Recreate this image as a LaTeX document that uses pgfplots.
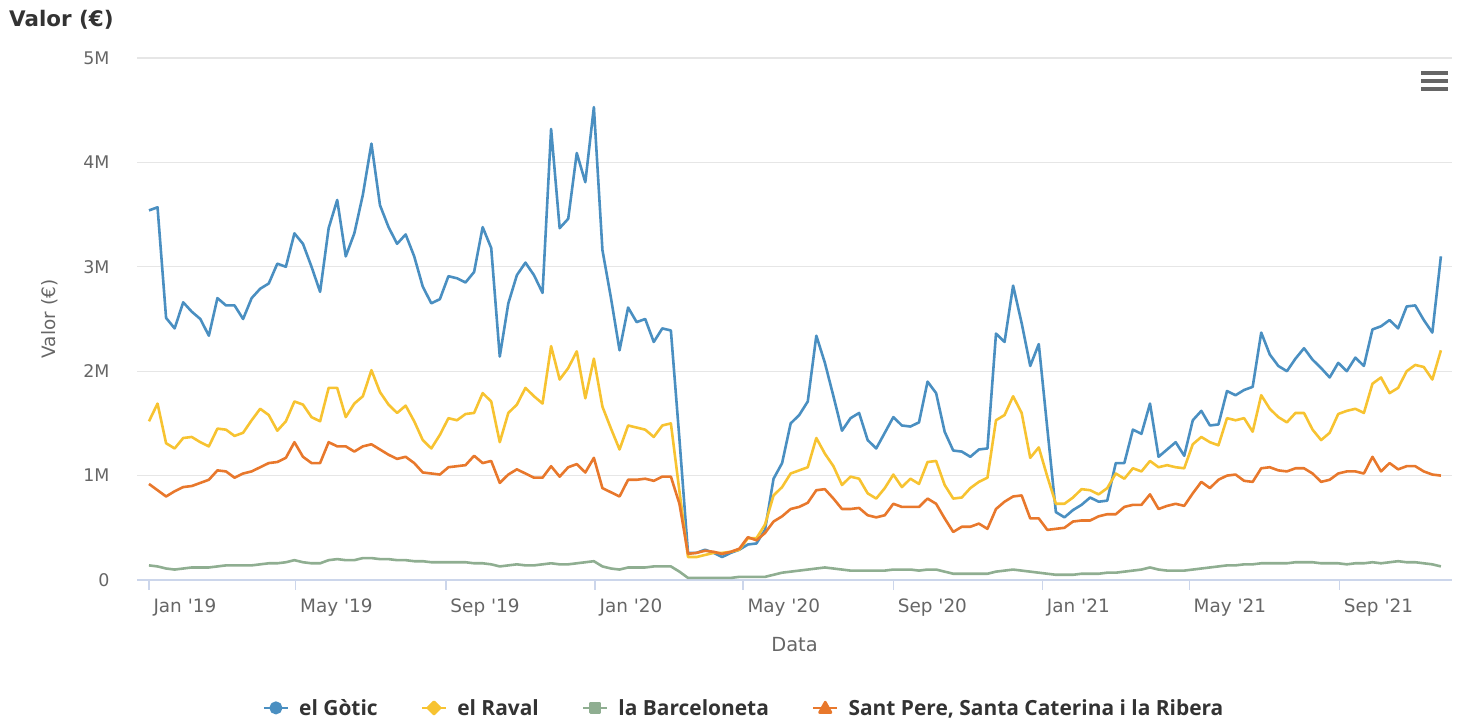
\documentclass[border=0pt]{standalone}
\usepackage{fontspec}
\setmainfont{DejaVu Sans}[Ligatures=TeXOff]
\newfontfamily\legfont{Open Sans}[Ligatures=TeXOff]
\usepackage{pgfplots}
\pgfplotsset{compat=1.18}
\usepackage{pgfplotstable}
\definecolor{cG}{HTML}{4A8FC1}
\definecolor{cR}{HTML}{F7C331}
\definecolor{cB}{HTML}{8FAE91}
\definecolor{cS}{HTML}{E8782C}
\definecolor{axisc}{HTML}{CCD6EB}
\definecolor{gridc}{HTML}{E6E6E6}
\definecolor{labc}{HTML}{666666}
\definecolor{titlec}{HTML}{333333}

\pgfplotstableread{
i G R B S
0 3.54 1.52 0.14 0.92
1 3.57 1.69 0.13 0.86
2 2.51 1.31 0.11 0.80
3 2.41 1.26 0.10 0.85
4 2.66 1.36 0.11 0.89
5 2.57 1.37 0.12 0.90
6 2.50 1.32 0.12 0.93
7 2.34 1.28 0.12 0.96
8 2.70 1.45 0.13 1.05
9 2.63 1.44 0.14 1.04
10 2.63 1.38 0.14 0.98
11 2.50 1.41 0.14 1.02
12 2.70 1.53 0.14 1.04
13 2.79 1.64 0.15 1.08
14 2.84 1.58 0.16 1.12
15 3.03 1.43 0.16 1.13
16 3.00 1.52 0.17 1.17
17 3.32 1.71 0.19 1.32
18 3.22 1.68 0.17 1.18
19 3.00 1.56 0.16 1.12
20 2.76 1.52 0.16 1.12
21 3.37 1.84 0.19 1.32
22 3.64 1.84 0.20 1.28
23 3.10 1.56 0.19 1.28
24 3.32 1.69 0.19 1.23
25 3.69 1.76 0.21 1.28
26 4.18 2.01 0.21 1.30
27 3.59 1.80 0.20 1.25
28 3.38 1.68 0.20 1.20
29 3.22 1.60 0.19 1.16
30 3.31 1.67 0.19 1.18
31 3.10 1.52 0.18 1.12
32 2.81 1.34 0.18 1.03
33 2.65 1.26 0.17 1.02
34 2.69 1.39 0.17 1.01
35 2.91 1.55 0.17 1.08
36 2.89 1.53 0.17 1.09
37 2.85 1.59 0.17 1.10
38 2.95 1.60 0.16 1.19
39 3.38 1.79 0.16 1.12
40 3.18 1.71 0.15 1.14
41 2.14 1.32 0.13 0.93
42 2.65 1.60 0.14 1.01
43 2.92 1.68 0.15 1.06
44 3.04 1.84 0.14 1.02
45 2.92 1.76 0.14 0.98
46 2.75 1.69 0.15 0.98
47 4.32 2.24 0.16 1.09
48 3.37 1.92 0.15 0.99
49 3.46 2.03 0.15 1.08
50 4.09 2.19 0.16 1.11
51 3.81 1.74 0.17 1.03
52 4.53 2.12 0.18 1.17
53 3.16 1.66 0.13 0.88
54 2.70 1.45 0.11 0.84
55 2.20 1.25 0.10 0.80
56 2.61 1.48 0.12 0.96
57 2.47 1.46 0.12 0.96
58 2.50 1.44 0.12 0.97
59 2.28 1.37 0.13 0.95
60 2.41 1.48 0.13 0.99
61 2.39 1.50 0.13 0.99
62 1.35 0.85 0.08 0.73
63 0.26 0.22 0.02 0.25
64 0.26 0.22 0.02 0.26
65 0.29 0.24 0.02 0.28
66 0.26 0.26 0.02 0.27
67 0.22 0.26 0.02 0.25
68 0.26 0.27 0.02 0.27
69 0.29 0.29 0.03 0.30
70 0.34 0.40 0.03 0.41
71 0.35 0.40 0.03 0.38
72 0.48 0.53 0.03 0.45
73 0.97 0.81 0.05 0.56
74 1.12 0.89 0.07 0.61
75 1.50 1.02 0.08 0.68
76 1.58 1.05 0.09 0.70
77 1.71 1.08 0.10 0.74
78 2.34 1.36 0.11 0.86
79 2.08 1.21 0.12 0.87
80 1.76 1.09 0.11 0.78
81 1.43 0.91 0.10 0.68
82 1.55 0.99 0.09 0.68
83 1.60 0.97 0.09 0.69
84 1.34 0.83 0.09 0.62
85 1.26 0.78 0.09 0.60
86 1.41 0.88 0.09 0.62
87 1.56 1.01 0.10 0.73
88 1.48 0.89 0.10 0.70
89 1.47 0.97 0.10 0.70
90 1.51 0.92 0.09 0.70
91 1.90 1.13 0.10 0.78
92 1.79 1.14 0.10 0.73
93 1.42 0.91 0.08 0.59
94 1.24 0.78 0.06 0.46
95 1.23 0.79 0.06 0.51
96 1.18 0.88 0.06 0.51
97 1.25 0.94 0.06 0.54
98 1.26 0.98 0.06 0.49
99 2.36 1.53 0.08 0.68
100 2.28 1.58 0.09 0.75
101 2.82 1.76 0.10 0.80
102 2.46 1.60 0.09 0.81
103 2.05 1.17 0.08 0.59
104 2.26 1.27 0.07 0.59
105 1.45 0.99 0.06 0.48
106 0.65 0.73 0.05 0.49
107 0.60 0.73 0.05 0.50
108 0.67 0.79 0.05 0.56
109 0.72 0.87 0.06 0.57
110 0.79 0.86 0.06 0.57
111 0.75 0.82 0.06 0.61
112 0.76 0.88 0.07 0.63
113 1.12 1.02 0.07 0.63
114 1.12 0.97 0.08 0.70
115 1.44 1.07 0.09 0.72
116 1.40 1.04 0.10 0.72
117 1.69 1.14 0.12 0.82
118 1.18 1.08 0.10 0.68
119 1.25 1.10 0.09 0.71
120 1.32 1.08 0.09 0.73
121 1.19 1.07 0.09 0.71
122 1.53 1.30 0.10 0.83
123 1.62 1.37 0.11 0.94
124 1.48 1.32 0.12 0.88
125 1.49 1.29 0.13 0.96
126 1.81 1.55 0.14 1.00
127 1.77 1.53 0.14 1.01
128 1.82 1.55 0.15 0.95
129 1.85 1.42 0.15 0.94
130 2.37 1.77 0.16 1.07
131 2.16 1.64 0.16 1.08
132 2.05 1.56 0.16 1.05
133 2.00 1.51 0.16 1.04
134 2.12 1.60 0.17 1.07
135 2.22 1.60 0.17 1.07
136 2.11 1.44 0.17 1.02
137 2.03 1.34 0.16 0.94
138 1.94 1.41 0.16 0.96
139 2.08 1.59 0.16 1.02
140 2.00 1.62 0.15 1.04
141 2.13 1.64 0.16 1.04
142 2.05 1.60 0.16 1.02
143 2.40 1.88 0.17 1.18
144 2.43 1.94 0.16 1.04
145 2.49 1.79 0.17 1.12
146 2.41 1.84 0.18 1.06
147 2.62 2.00 0.17 1.09
148 2.63 2.06 0.17 1.09
149 2.49 2.04 0.16 1.04
150 2.37 1.92 0.15 1.01
151 3.10 2.20 0.13 1.00
}\data

\begin{document}
\begin{tikzpicture}[x=1bp,y=1bp]
\useasboundingbox (0,0) rectangle (1472,721);
\begin{axis}[
  at={(137bp,141bp)}, anchor=south west,
  width=1315bp, height=522bp, scale only axis,
  xmin=-1.4, xmax=152.3, ymin=0, ymax=5,
  axis x line*=bottom, axis y line*=left,
  x axis line style={color=axisc, line width=1.2bp, -},
  y axis line style={draw=none},
  xtick={0,17.14,34.71,52.14,69.43,87,104.43,121.57,139.14},
  xticklabels={Jan '19,May '19,Sep '19,Jan '20,May '20,Sep '20,Jan '21,May '21,Sep '21},
  ytick={0,1,2,3,4,5},
  yticklabels={0,1M,2M,3M,4M,5M},
  ymajorgrids, grid style={color=gridc, line width=1.2bp},
  tick align=outside,
  major tick length=10bp,
  xtick style={color=axisc, line width=1.2bp},
  ytick style={draw=none},
  xticklabel style={anchor=north west, xshift=1bp, yshift=-5bp, font=\fontsize{18.5}{21}\selectfont, text=labc},
  yticklabel style={anchor=east, xshift=-14bp, font=\fontsize{17.5}{21}\selectfont, text=labc},
  xlabel={Data}, ylabel={Valor (€)},
  xlabel style={at={(axis description cs:0.5,-0.1245)}, anchor=center, font=\fontsize{19.5}{22}\selectfont, text=labc},
  ylabel style={at={(axis description cs:-0.0662,0.5)}, anchor=center, font=\fontsize{18.5}{22}\selectfont, text=labc},
  legend style={at={(0.4616,-0.245)}, anchor=center, draw=none, fill=none,
    font=\legfont\bfseries\fontsize{21}{24}\selectfont, text=titlec,
    /tikz/every odd column/.append style={column sep=8bp},
    /tikz/every even column/.append style={column sep=41bp}},
  legend columns=4, legend cell align=left,
  clip=false,
]
\addplot[color=cG, line width=2.6bp, line join=round, mark=none,
  legend image code/.code={\draw[cG,line width=2.6bp] (0bp,0bp)--(24bp,0bp); \fill[cG] (12bp,0bp) circle (5.2bp);}]
  table[x=i, y=G] {\data};
\addlegendentry{el Gòtic}
\addplot[color=cR, line width=2.6bp, line join=round, mark=none,
  legend image code/.code={\draw[cR,line width=2.6bp] (0bp,0bp)--(24bp,0bp); \fill[cR] (12bp,6.2bp)--(18.2bp,0bp)--(12bp,-6.2bp)--(5.8bp,0bp)--cycle;}]
  table[x=i, y=R] {\data};
\addlegendentry{el Raval}
\addplot[color=cB, line width=2.6bp, line join=round, mark=none,
  legend image code/.code={\draw[cB,line width=2.6bp] (0bp,0bp)--(24bp,0bp); \fill[cB] (7.3bp,-4.7bp) rectangle (16.7bp,4.7bp);}]
  table[x=i, y=B] {\data};
\addlegendentry{la Barceloneta}
\addplot[color=cS, line width=2.6bp, line join=round, mark=none,
  legend image code/.code={\draw[cS,line width=2.6bp] (0bp,0bp)--(24bp,0bp); \fill[cS] (12bp,5.8bp)--(17.8bp,-4.6bp)--(6.2bp,-4.6bp)--cycle;}]
  table[x=i, y=S] {\data};
\addlegendentry{Sant Pere, Santa Caterina i la Ribera}
\end{axis}
\node[anchor=west, font=\bfseries\fontsize{21.5}{25}\selectfont, text=titlec, inner sep=0pt] at (9,701) {Valor (€)};
\fill[labc] (1421,646) rectangle (1448,650);
\fill[labc] (1421,638) rectangle (1448,642);
\fill[labc] (1421,630) rectangle (1448,634);
\end{tikzpicture}
\end{document}
